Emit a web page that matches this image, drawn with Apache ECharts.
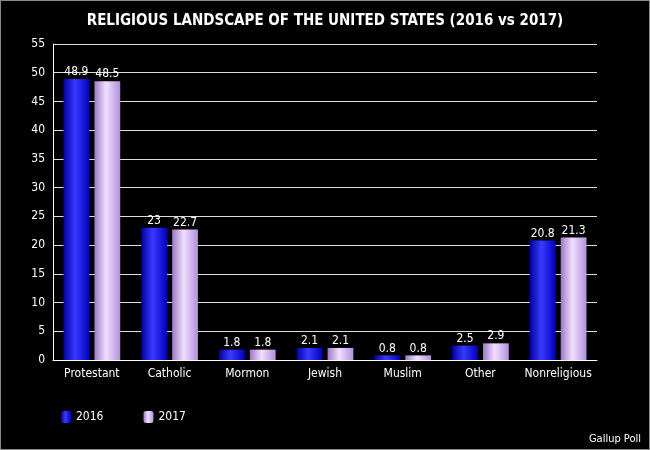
<!DOCTYPE html>
<html><head><meta charset="utf-8">
<script src="https://cdn.jsdelivr.net/npm/echarts@6/dist/echarts.min.js"></script>
<style>html,body{margin:0;padding:0;background:#000}#c{width:650px;height:450px;box-sizing:border-box;border:1px solid #888}</style>
</head><body><div id="c"></div>
<script>
const categories=['Protestant','Catholic','Mormon','Jewish','Muslim','Other','Nonreligious'];
const s2016=[48.9,23,1.8,2.1,0.8,2.5,20.8];
const s2017=[48.5,22.7,1.8,2.1,0.8,2.9,21.3];
const yTicks={min:0,max:55,interval:5};
const chart=echarts.init(document.getElementById('c'));
const F='DejaVu Sans Condensed, DejaVu Sans';
const g=(a,b,c)=>new echarts.graphic.LinearGradient(0,0,1,0,[{offset:0,color:a},{offset:0.45,color:b},{offset:1,color:c}]);
const lbl={show:true,position:'top',color:'#fff',fontSize:12,distance:1,fontFamily:F};
chart.setOption({
backgroundColor:'#000',animation:false,
title:{text:'RELIGIOUS LANDSCAPE OF THE UNITED STATES (2016 vs 2017)',left:'center',top:8,textStyle:{color:'#fff',fontSize:15,fontWeight:'bold',fontFamily:F}},
legend:{left:55,top:405,itemWidth:10,itemHeight:12,itemGap:40,textStyle:{color:'#fff',fontSize:12,fontFamily:F},data:['2016','2017']},
graphic:[{type:'text',right:8,top:433,style:{text:'Gallup Poll',fill:'#fff',font:'11px '+F}}],
grid:{left:52,right:52,top:43,bottom:89},
xAxis:{type:'category',data:categories,axisLine:{lineStyle:{color:'#fff'}},axisTick:{show:false},axisLabel:{color:'#fff',fontSize:12,fontFamily:F,interval:0}},
yAxis:{type:'value',...yTicks,axisLine:{show:true,lineStyle:{color:'#fff'}},axisTick:{show:false},splitLine:{lineStyle:{color:'#ddd',width:1}},axisLabel:{color:'#fff',fontSize:12,fontFamily:F}},
series:[
{name:'2016',type:'bar',data:s2016,barGap:'20%',barCategoryGap:'27%',itemStyle:{color:g('#0000a0','#3a3aff','#0000c0')},label:lbl},
{name:'2017',type:'bar',data:s2017,itemStyle:{color:g('#9a78c8','#f0e0ff','#b090dd')},label:lbl}
]});
</script></body></html>
